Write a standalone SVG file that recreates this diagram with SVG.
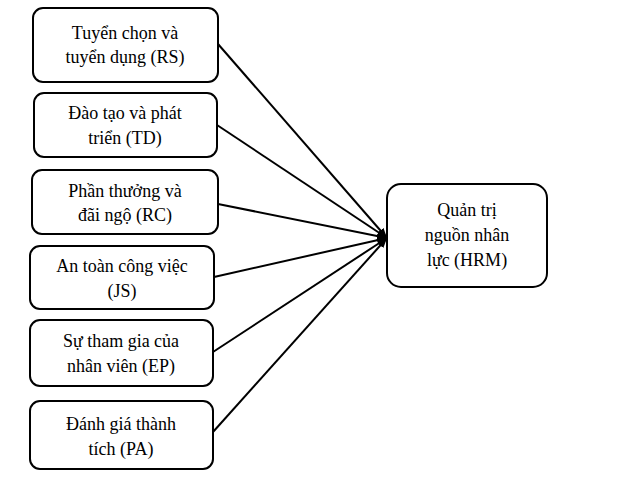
<svg xmlns="http://www.w3.org/2000/svg" width="642" height="504" viewBox="0 0 642 504">
<style>
.b{fill:#fff;stroke:#000;stroke-width:2}
text{font-family:"Liberation Serif",serif;font-size:18px;text-anchor:middle;fill:#000}
.c line{stroke:#000;stroke-width:2;marker-end:url(#a)}
</style>
<defs><marker id="a" viewBox="0 0 10 10" refX="10" refY="5" markerWidth="5" markerHeight="5" orient="auto" markerUnits="strokeWidth"><path d="M0,1 L10,5 L0,9 Z"/></marker></defs>
<rect width="642" height="504" fill="#fff"/>
<g class="c">
<line x1="218" y1="44" x2="387" y2="238"/>
<line x1="217" y1="125" x2="387" y2="238"/>
<line x1="218" y1="204" x2="387" y2="238"/>
<line x1="214" y1="277" x2="387" y2="238"/>
<line x1="213" y1="352" x2="387" y2="238"/>
<line x1="213" y1="432" x2="387" y2="238"/>
</g>
<g id="n1"><rect class="b" x="33" y="8" width="185" height="74" rx="10"/><text x="125" y="39">Tuyển chọn và</text><text x="125" y="63">tuyển dụng (RS)</text></g>
<g id="n2"><rect class="b" x="34" y="93" width="183" height="64" rx="10"/><text x="125" y="119">Đào tạo và phát</text><text x="125" y="144">triển (TD)</text></g>
<g id="n3"><rect class="b" x="32" y="170" width="186" height="64" rx="10"/><text x="125" y="197">Phần thưởng và</text><text x="125" y="221">đãi ngộ (RC)</text></g>
<g id="n4"><rect class="b" x="30" y="246" width="184" height="63" rx="10"/><text x="122" y="272">An toàn công việc</text><text x="122" y="297">(JS)</text></g>
<g id="n5"><rect class="b" x="30" y="320" width="183" height="66" rx="10"/><text x="121" y="347">Sự tham gia của</text><text x="121" y="372">nhân viên (EP)</text></g>
<g id="n6"><rect class="b" x="30" y="401" width="183" height="68" rx="10"/><text x="121" y="430">Đánh giá thành</text><text x="121" y="455">tích (PA)</text></g>
<g id="hrm"><rect class="b" x="387" y="184" width="160" height="103" rx="14"/><text x="467" y="216">Quản trị</text><text x="467" y="241">nguồn nhân</text><text x="467" y="266">lực (HRM)</text></g>
</svg>
